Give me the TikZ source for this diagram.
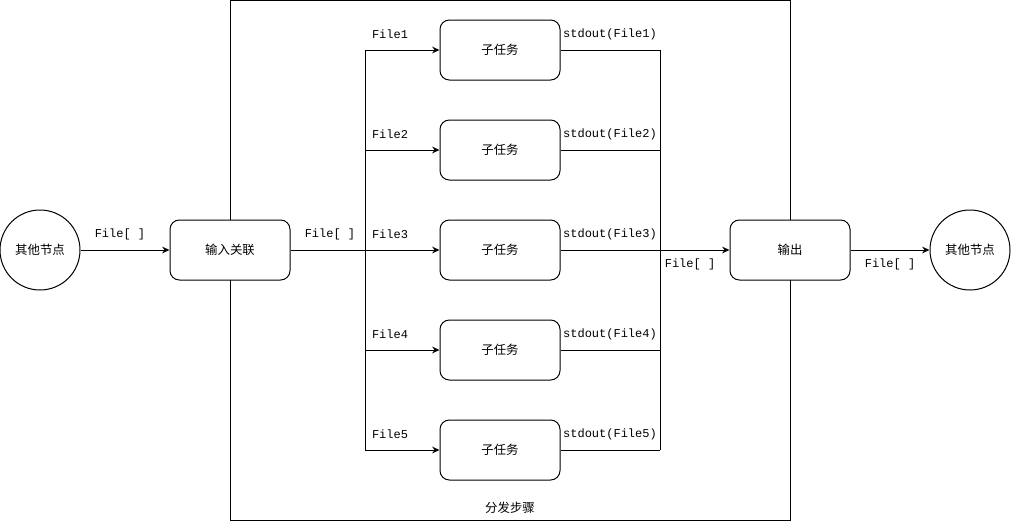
\documentclass[tikz,border=0pt]{standalone}
\usepackage{fontspec}
\setmainfont{Liberation Sans}
\setmonofont{Liberation Mono}
\newfontfamily\cjk{Noto Sans CJK SC}
\usetikzlibrary{arrows.meta,positioning}

\begin{document}
\begin{tikzpicture}[x=0.75pt, y=-0.75pt, line width=0.75pt,
    >={Stealth[length=5.5pt,width=5pt]},
    box/.style={draw, fill=white, rounded corners=7pt, minimum width=90pt, minimum height=45pt,
        font=\cjk\fontsize{9.3}{11}\selectfont},
    peer/.style={draw, fill=white, circle, minimum size=60pt, inner sep=0pt,
        font=\cjk\fontsize{9.3}{11}\selectfont},
    file/.style={font=\ttfamily\fontsize{9}{11}\selectfont, inner sep=1pt}]
    \useasboundingbox (0,0) rectangle (1011,521);

    % Distribution frame
    \node[draw, minimum width=420pt, minimum height=390pt, inner sep=0pt] (frame) at (510,260) {};
    \node[font=\cjk\fontsize{9.3}{11}\selectfont] (framelabel) at (510,508) {分发步骤};

    % Outer nodes
    \node[peer] (srcnode) at (40,250) {其他节点};
    \node[box] (inlink) at (230,250) {输入关联};
    \node[box] (outnode) at (790,250) {输出};
    \node[peer] (dstnode) at (970,250) {其他节点};

    % Fork and join points
    \coordinate (fork) at (365,250);
    \coordinate (join) at (660,250);

    % Sub tasks
    \foreach \i in {1,...,5} {
        \node[box] (sub\i) at (500,{50+100*(\i-1)}) {子任务};
        \draw[->] (fork |- sub\i) -- (sub\i.west);
        \draw (sub\i.east) -- (join |- sub\i);
        \node[file] (in\i) at (390,{34+100*(\i-1)}) {File\i};
        \node[file] (res\i) at (610,{34+100*(\i-1)}) {stdout(File\i)};
    }
    \draw (fork |- sub1) -- (fork |- sub5);
    \draw (join |- sub1) -- (join |- sub5);

    % Main flow
    \draw[->] (srcnode) -- (inlink);
    \node[file] (lbl1) at (120,234) {File[ ]};
    \draw (inlink) -- (fork);
    \node[file] (lbl2) at (330,234) {File[ ]};
    \draw[->] (join) -- (outnode);
    \node[file] (lbl3) at (690,264) {File[ ]};
    \draw[->] (outnode) -- (dstnode);
    \node[file] (lbl4) at (890,264) {File[ ]};
\end{tikzpicture}
\end{document}
